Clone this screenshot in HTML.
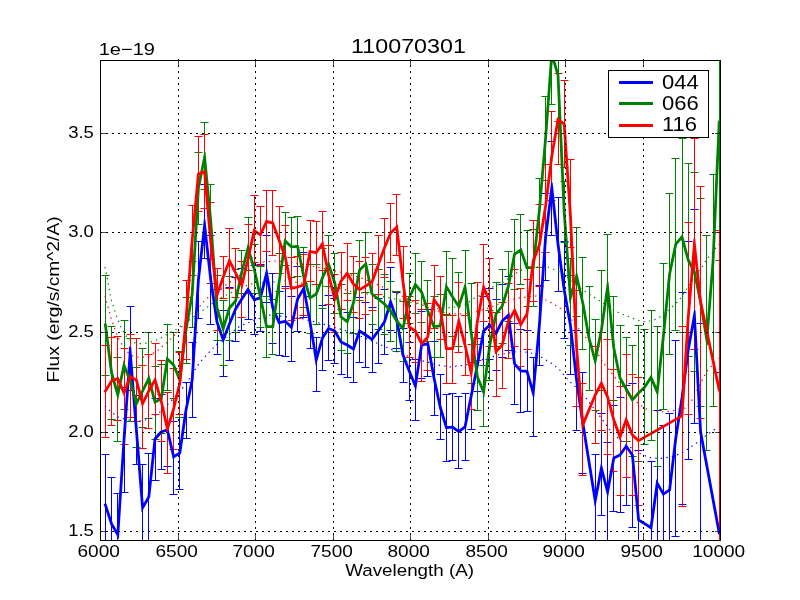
<!DOCTYPE html><html><head><meta charset="utf-8"><style>
html,body{margin:0;padding:0;background:#fff;}
svg{display:block}
text{font-family:"Liberation Sans",sans-serif;fill:#000}
</style></head><body>
<div style="will-change:transform;width:800px;height:600px"><svg width="800" height="600" viewBox="0 0 800 600">
<rect width="800" height="600" fill="#fff"/>
<defs><clipPath id="c"><rect x="100" y="60" width="620" height="480"/></clipPath></defs>
<g clip-path="url(#c)" fill="none">
<path d="M105.5 454.5V556.5M101.5 454.5h8M101.5 556.5h8M111.5 477.5V571.5M107.5 477.5h8M107.5 571.5h8M117.5 493.5V585.5M113.5 493.5h8M113.5 585.5h8M124.5 387.5V492.5M120.5 387.5h8M120.5 492.5h8M130.5 306.5V390.5M126.5 306.5h8M126.5 390.5h8M136.5 395.5V464.5M132.5 395.5h8M132.5 464.5h8M142.5 464.5V559.5M138.5 464.5h8M138.5 559.5h8M148.5 453.5V541.5M144.5 453.5h8M144.5 541.5h8M155.5 398.5V480.5M151.5 398.5h8M151.5 480.5h8M161.5 394.5V469.5M157.5 394.5h8M157.5 469.5h8M167.5 392.5V466.5M163.5 392.5h8M163.5 466.5h8M173.5 421.5V494.5M169.5 421.5h8M169.5 494.5h8M179.5 417.5V489.5M175.5 417.5h8M175.5 489.5h8M186.5 382.5V438.5M182.5 382.5h8M182.5 438.5h8M192.5 342.5V417.5M188.5 342.5h8M188.5 417.5h8M198.5 241.5V318.5M194.5 241.5h8M194.5 318.5h8M204.5 184.5V258.5M200.5 184.5h8M200.5 258.5h8M210.5 235.5V324.5M206.5 235.5h8M206.5 324.5h8M217.5 289.5V354.5M213.5 289.5h8M213.5 354.5h8M223.5 310.5V376.5M219.5 310.5h8M219.5 376.5h8M229.5 287.5V360.5M225.5 287.5h8M225.5 360.5h8M235.5 277.5V341.5M231.5 277.5h8M231.5 341.5h8M241.5 268.5V330.5M237.5 268.5h8M237.5 330.5h8M248.5 257.5V319.5M244.5 257.5h8M244.5 319.5h8M254.5 265.5V334.5M250.5 265.5h8M250.5 334.5h8M260.5 264.5V331.5M256.5 264.5h8M256.5 331.5h8M266.5 235.5V302.5M262.5 235.5h8M262.5 302.5h8M272.5 273.5V343.5M268.5 273.5h8M268.5 343.5h8M279.5 291.5V355.5M275.5 291.5h8M275.5 355.5h8M285.5 286.5V356.5M281.5 286.5h8M281.5 356.5h8M291.5 296.5V361.5M287.5 296.5h8M287.5 361.5h8M297.5 266.5V331.5M293.5 266.5h8M293.5 331.5h8M303.5 252.5V317.5M299.5 252.5h8M299.5 317.5h8M310.5 296.5V348.5M306.5 296.5h8M306.5 348.5h8M316.5 337.5V391.5M312.5 337.5h8M312.5 391.5h8M322.5 305.5V370.5M318.5 305.5h8M318.5 370.5h8M328.5 295.5V360.5M324.5 295.5h8M324.5 360.5h8M334.5 298.5V363.5M330.5 298.5h8M330.5 363.5h8M341.5 309.5V374.5M337.5 309.5h8M337.5 374.5h8M347.5 312.5V377.5M343.5 312.5h8M343.5 377.5h8M353.5 317.5V382.5M349.5 317.5h8M349.5 382.5h8M359.5 297.5V362.5M355.5 297.5h8M355.5 362.5h8M365.5 302.5V367.5M361.5 302.5h8M361.5 367.5h8M372.5 307.5V372.5M368.5 307.5h8M368.5 372.5h8M378.5 298.5V363.5M374.5 298.5h8M374.5 363.5h8M384.5 289.5V354.5M380.5 289.5h8M380.5 354.5h8M390.5 267.5V330.5M386.5 267.5h8M386.5 330.5h8M396.5 292.5V348.5M392.5 292.5h8M392.5 348.5h8M403.5 328.5V382.5M399.5 328.5h8M399.5 382.5h8M409.5 342.5V400.5M405.5 342.5h8M405.5 400.5h8M415.5 359.5V420.5M411.5 359.5h8M411.5 420.5h8M421.5 311.5V378.5M417.5 311.5h8M417.5 378.5h8M427.5 309.5V376.5M423.5 309.5h8M423.5 376.5h8M434.5 341.5V415.5M430.5 341.5h8M430.5 415.5h8M440.5 374.5V439.5M436.5 374.5h8M436.5 439.5h8M446.5 394.5V461.5M442.5 394.5h8M442.5 461.5h8M452.5 393.5V460.5M448.5 393.5h8M448.5 460.5h8M458.5 396.5V468.5M454.5 396.5h8M454.5 468.5h8M465.5 393.5V460.5M461.5 393.5h8M461.5 460.5h8M471.5 362.5V429.5M467.5 362.5h8M467.5 429.5h8M477.5 338.5V391.5M473.5 338.5h8M473.5 391.5h8M483.5 296.5V365.5M479.5 296.5h8M479.5 365.5h8M489.5 288.5V359.5M485.5 288.5h8M485.5 359.5h8M496.5 299.5V370.5M492.5 299.5h8M492.5 370.5h8M502.5 284.5V357.5M498.5 284.5h8M498.5 357.5h8M508.5 276.5V350.5M504.5 276.5h8M504.5 350.5h8M514.5 323.5V404.5M510.5 323.5h8M510.5 404.5h8M520.5 329.5V412.5M516.5 329.5h8M516.5 412.5h8M527.5 330.5V411.5M523.5 330.5h8M523.5 411.5h8M533.5 357.5V436.5M529.5 357.5h8M529.5 436.5h8M539.5 285.5V365.5M535.5 285.5h8M535.5 365.5h8M545.5 193.5V280.5M541.5 193.5h8M541.5 280.5h8M551.5 141.5V235.5M547.5 141.5h8M547.5 235.5h8M558.5 197.5V291.5M554.5 197.5h8M554.5 291.5h8M564.5 241.5V338.5M560.5 241.5h8M560.5 338.5h8M570.5 275.5V374.5M566.5 275.5h8M566.5 374.5h8M576.5 330.5V430.5M572.5 330.5h8M572.5 430.5h8M582.5 372.5V473.5M578.5 372.5h8M578.5 473.5h8M595.5 454.5V555.5M591.5 454.5h8M591.5 555.5h8M601.5 413.5V515.5M597.5 413.5h8M597.5 515.5h8M607.5 442.5V549.5M603.5 442.5h8M603.5 549.5h8M613.5 405.5V511.5M609.5 405.5h8M609.5 511.5h8M620.5 397.5V512.5M616.5 397.5h8M616.5 512.5h8M626.5 385.5V505.5M622.5 385.5h8M622.5 505.5h8M632.5 383.5V527.5M628.5 383.5h8M628.5 527.5h8M638.5 450.5V590.5M634.5 450.5h8M634.5 590.5h8M651.5 461.5V596.5M647.5 461.5h8M647.5 596.5h8M657.5 410.5V547.5M653.5 410.5h8M653.5 547.5h8M663.5 425.5V565.5M659.5 425.5h8M659.5 565.5h8M669.5 413.5V566.5M665.5 413.5h8M665.5 566.5h8M675.5 340.5V536.5M671.5 340.5h8M671.5 536.5h8M682.5 292.5V504.5M678.5 292.5h8M678.5 504.5h8M688.5 241.5V459.5M684.5 241.5h8M684.5 459.5h8M694.5 209.5V423.5M690.5 209.5h8M690.5 423.5h8M700.5 323.5V541.5M696.5 323.5h8M696.5 541.5h8M719.5 372.5V694.5M715.5 372.5h8M715.5 694.5h8" stroke="#0000ff" stroke-width="1"/>
<path d="M105.5 275.5V375.5M101.5 275.5h8M101.5 375.5h8M111.5 326.5V419.5M107.5 326.5h8M107.5 419.5h8M117.5 357.5V441.5M113.5 357.5h8M113.5 441.5h8M124.5 320.5V409.5M120.5 320.5h8M120.5 409.5h8M130.5 338.5V421.5M126.5 338.5h8M126.5 421.5h8M136.5 367.5V447.5M132.5 367.5h8M132.5 447.5h8M142.5 348.5V427.5M138.5 348.5h8M138.5 427.5h8M148.5 332.5V418.5M144.5 332.5h8M144.5 418.5h8M155.5 366.5V439.5M151.5 366.5h8M151.5 439.5h8M161.5 364.5V433.5M157.5 364.5h8M157.5 433.5h8M167.5 324.5V390.5M163.5 324.5h8M163.5 390.5h8M173.5 332.5V398.5M169.5 332.5h8M169.5 398.5h8M179.5 351.5V417.5M175.5 351.5h8M175.5 417.5h8M186.5 297.5V363.5M182.5 297.5h8M182.5 363.5h8M192.5 261.5V327.5M188.5 261.5h8M188.5 327.5h8M198.5 152.5V224.5M194.5 152.5h8M194.5 224.5h8M204.5 122.5V189.5M200.5 122.5h8M200.5 189.5h8M210.5 184.5V259.5M206.5 184.5h8M206.5 259.5h8M217.5 275.5V340.5M213.5 275.5h8M213.5 340.5h8M223.5 300.5V365.5M219.5 300.5h8M219.5 365.5h8M229.5 276.5V340.5M225.5 276.5h8M225.5 340.5h8M235.5 269.5V332.5M231.5 269.5h8M231.5 332.5h8M241.5 250.5V293.5M237.5 250.5h8M237.5 293.5h8M248.5 217.5V270.5M244.5 217.5h8M244.5 270.5h8M254.5 244.5V293.5M250.5 244.5h8M250.5 293.5h8M260.5 266.5V327.5M256.5 266.5h8M256.5 327.5h8M266.5 296.5V357.5M262.5 296.5h8M262.5 357.5h8M272.5 299.5V354.5M268.5 299.5h8M268.5 354.5h8M279.5 253.5V313.5M275.5 253.5h8M275.5 313.5h8M285.5 212.5V265.5M281.5 212.5h8M281.5 265.5h8M291.5 217.5V277.5M287.5 217.5h8M287.5 277.5h8M297.5 216.5V276.5M293.5 216.5h8M293.5 276.5h8M303.5 247.5V307.5M299.5 247.5h8M299.5 307.5h8M310.5 264.5V333.5M306.5 264.5h8M306.5 333.5h8M316.5 264.5V324.5M312.5 264.5h8M312.5 324.5h8M322.5 248.5V308.5M318.5 248.5h8M318.5 308.5h8M328.5 235.5V286.5M324.5 235.5h8M324.5 286.5h8M334.5 253.5V313.5M330.5 253.5h8M330.5 313.5h8M341.5 284.5V350.5M337.5 284.5h8M337.5 350.5h8M347.5 293.5V353.5M343.5 293.5h8M343.5 353.5h8M353.5 273.5V333.5M349.5 273.5h8M349.5 333.5h8M359.5 240.5V300.5M355.5 240.5h8M355.5 300.5h8M365.5 232.5V292.5M361.5 232.5h8M361.5 292.5h8M372.5 264.5V324.5M368.5 264.5h8M368.5 324.5h8M378.5 269.5V329.5M374.5 269.5h8M374.5 329.5h8M384.5 274.5V334.5M380.5 274.5h8M380.5 334.5h8M390.5 281.5V341.5M386.5 281.5h8M386.5 341.5h8M396.5 291.5V351.5M392.5 291.5h8M392.5 351.5h8M403.5 301.5V361.5M399.5 301.5h8M399.5 361.5h8M409.5 273.5V323.5M405.5 273.5h8M405.5 323.5h8M415.5 253.5V313.5M411.5 253.5h8M411.5 313.5h8M421.5 261.5V322.5M417.5 261.5h8M417.5 322.5h8M427.5 280.5V341.5M423.5 280.5h8M423.5 341.5h8M434.5 296.5V357.5M430.5 296.5h8M430.5 357.5h8M440.5 294.5V357.5M436.5 294.5h8M436.5 357.5h8M446.5 251.5V314.5M442.5 251.5h8M442.5 314.5h8M452.5 258.5V336.5M448.5 258.5h8M448.5 336.5h8M458.5 272.5V346.5M454.5 272.5h8M454.5 346.5h8M465.5 250.5V315.5M461.5 250.5h8M461.5 315.5h8M471.5 283.5V383.5M467.5 283.5h8M467.5 383.5h8M477.5 344.5V410.5M473.5 344.5h8M473.5 410.5h8M483.5 365.5V426.5M479.5 365.5h8M479.5 426.5h8M489.5 310.5V380.5M485.5 310.5h8M485.5 380.5h8M496.5 282.5V346.5M492.5 282.5h8M492.5 346.5h8M502.5 269.5V343.5M498.5 269.5h8M498.5 343.5h8M508.5 251.5V321.5M504.5 251.5h8M504.5 321.5h8M514.5 219.5V289.5M510.5 219.5h8M510.5 289.5h8M520.5 214.5V284.5M516.5 214.5h8M516.5 284.5h8M527.5 230.5V306.5M523.5 230.5h8M523.5 306.5h8M533.5 229.5V306.5M529.5 229.5h8M529.5 306.5h8M539.5 178.5V267.5M535.5 178.5h8M535.5 267.5h8M545.5 96.5V180.5M541.5 96.5h8M541.5 180.5h8M551.5 -3.5V104.5M547.5 -3.5h8M547.5 104.5h8M558.5 29.5V121.5M554.5 29.5h8M554.5 121.5h8M564.5 181.5V242.5M560.5 181.5h8M560.5 242.5h8M570.5 258.5V345.5M566.5 258.5h8M566.5 345.5h8M576.5 227.5V316.5M572.5 227.5h8M572.5 316.5h8M582.5 257.5V349.5M578.5 257.5h8M578.5 349.5h8M589.5 286.5V390.5M585.5 286.5h8M585.5 390.5h8M595.5 319.5V410.5M591.5 319.5h8M591.5 410.5h8M601.5 270.5V390.5M597.5 270.5h8M597.5 390.5h8M607.5 234.5V339.5M603.5 234.5h8M603.5 339.5h8M613.5 296.5V400.5M609.5 296.5h8M609.5 400.5h8M620.5 325.5V430.5M616.5 325.5h8M616.5 430.5h8M626.5 337.5V441.5M622.5 337.5h8M622.5 441.5h8M632.5 345.5V456.5M628.5 345.5h8M628.5 456.5h8M638.5 325.5V461.5M634.5 325.5h8M634.5 461.5h8M644.5 329.5V444.5M640.5 329.5h8M640.5 444.5h8M651.5 310.5V440.5M647.5 310.5h8M647.5 440.5h8M657.5 326.5V466.5M653.5 326.5h8M653.5 466.5h8M663.5 263.5V409.5M659.5 263.5h8M659.5 409.5h8M669.5 193.5V354.5M665.5 193.5h8M665.5 354.5h8M675.5 158.5V330.5M671.5 158.5h8M671.5 330.5h8M682.5 138.5V332.5M678.5 138.5h8M678.5 332.5h8M688.5 163.5V356.5M684.5 163.5h8M684.5 356.5h8M694.5 172.5V371.5M690.5 172.5h8M690.5 371.5h8M700.5 198.5V406.5M696.5 198.5h8M696.5 406.5h8M706.5 235.5V450.5M702.5 235.5h8M702.5 450.5h8M713.5 174.5V406.5M709.5 174.5h8M709.5 406.5h8M719.5 -15.5V260.5M715.5 -15.5h8M715.5 260.5h8" stroke="#008000" stroke-width="1"/>
<path d="M105.5 345.5V437.5M101.5 345.5h8M101.5 437.5h8M111.5 337.5V425.5M107.5 337.5h8M107.5 425.5h8M117.5 336.5V420.5M113.5 336.5h8M113.5 420.5h8M124.5 348.5V444.5M120.5 348.5h8M120.5 444.5h8M130.5 334.5V417.5M126.5 334.5h8M126.5 417.5h8M136.5 338.5V421.5M132.5 338.5h8M132.5 421.5h8M142.5 365.5V448.5M138.5 365.5h8M138.5 448.5h8M148.5 354.5V428.5M144.5 354.5h8M144.5 428.5h8M155.5 343.5V414.5M151.5 343.5h8M151.5 414.5h8M161.5 360.5V441.5M157.5 360.5h8M157.5 441.5h8M167.5 392.5V473.5M163.5 392.5h8M163.5 473.5h8M173.5 368.5V449.5M169.5 368.5h8M169.5 449.5h8M179.5 352.5V414.5M175.5 352.5h8M175.5 414.5h8M186.5 280.5V359.5M182.5 280.5h8M182.5 359.5h8M192.5 205.5V275.5M188.5 205.5h8M188.5 275.5h8M198.5 136.5V211.5M194.5 136.5h8M194.5 211.5h8M204.5 134.5V208.5M200.5 134.5h8M200.5 208.5h8M210.5 202.5V283.5M206.5 202.5h8M206.5 283.5h8M217.5 268.5V330.5M213.5 268.5h8M213.5 330.5h8M223.5 256.5V298.5M219.5 256.5h8M219.5 298.5h8M229.5 228.5V288.5M225.5 228.5h8M225.5 288.5h8M235.5 248.5V297.5M231.5 248.5h8M231.5 297.5h8M241.5 261.5V317.5M237.5 261.5h8M237.5 317.5h8M248.5 224.5V293.5M244.5 224.5h8M244.5 293.5h8M254.5 195.5V262.5M250.5 195.5h8M250.5 262.5h8M260.5 206.5V265.5M256.5 206.5h8M256.5 265.5h8M266.5 190.5V251.5M262.5 190.5h8M262.5 251.5h8M272.5 190.5V255.5M268.5 190.5h8M268.5 255.5h8M279.5 206.5V273.5M275.5 206.5h8M275.5 273.5h8M285.5 225.5V288.5M281.5 225.5h8M281.5 288.5h8M291.5 257.5V320.5M287.5 257.5h8M287.5 320.5h8M297.5 256.5V318.5M293.5 256.5h8M293.5 318.5h8M303.5 254.5V315.5M299.5 254.5h8M299.5 315.5h8M310.5 220.5V281.5M306.5 220.5h8M306.5 281.5h8M316.5 221.5V284.5M312.5 221.5h8M312.5 284.5h8M322.5 211.5V270.5M318.5 211.5h8M318.5 270.5h8M328.5 245.5V304.5M324.5 245.5h8M324.5 304.5h8M334.5 274.5V332.5M330.5 274.5h8M330.5 332.5h8M341.5 252.5V309.5M337.5 252.5h8M337.5 309.5h8M347.5 243.5V300.5M343.5 243.5h8M343.5 300.5h8M353.5 256.5V312.5M349.5 256.5h8M349.5 312.5h8M359.5 261.5V318.5M355.5 261.5h8M355.5 318.5h8M365.5 257.5V314.5M361.5 257.5h8M361.5 314.5h8M372.5 253.5V310.5M368.5 253.5h8M368.5 310.5h8M378.5 235.5V294.5M374.5 235.5h8M374.5 294.5h8M384.5 218.5V277.5M380.5 218.5h8M380.5 277.5h8M390.5 203.5V262.5M386.5 203.5h8M386.5 262.5h8M396.5 194.5V255.5M392.5 194.5h8M392.5 255.5h8M403.5 246.5V318.5M399.5 246.5h8M399.5 318.5h8M409.5 296.5V357.5M405.5 296.5h8M405.5 357.5h8M415.5 300.5V362.5M411.5 300.5h8M411.5 362.5h8M421.5 309.5V381.5M417.5 309.5h8M417.5 381.5h8M427.5 303.5V370.5M423.5 303.5h8M423.5 370.5h8M434.5 265.5V328.5M430.5 265.5h8M430.5 328.5h8M440.5 276.5V339.5M436.5 276.5h8M436.5 339.5h8M446.5 315.5V383.5M442.5 315.5h8M442.5 383.5h8M452.5 315.5V383.5M448.5 315.5h8M448.5 383.5h8M458.5 282.5V352.5M454.5 282.5h8M454.5 352.5h8M465.5 315.5V375.5M461.5 315.5h8M461.5 375.5h8M471.5 344.5V409.5M467.5 344.5h8M467.5 409.5h8M477.5 282.5V360.5M473.5 282.5h8M473.5 360.5h8M483.5 244.5V321.5M479.5 244.5h8M479.5 321.5h8M489.5 258.5V346.5M485.5 258.5h8M485.5 346.5h8M496.5 312.5V396.5M492.5 312.5h8M492.5 396.5h8M502.5 302.5V388.5M498.5 302.5h8M498.5 388.5h8M508.5 283.5V358.5M504.5 283.5h8M504.5 358.5h8M514.5 269.5V346.5M510.5 269.5h8M510.5 346.5h8M520.5 288.5V366.5M516.5 288.5h8M516.5 366.5h8M527.5 279.5V349.5M523.5 279.5h8M523.5 349.5h8M533.5 220.5V301.5M529.5 220.5h8M529.5 301.5h8M539.5 204.5V286.5M535.5 204.5h8M535.5 286.5h8M545.5 164.5V252.5M541.5 164.5h8M541.5 252.5h8M551.5 111.5V200.5M547.5 111.5h8M547.5 200.5h8M558.5 73.5V164.5M554.5 73.5h8M554.5 164.5h8M564.5 80.5V167.5M560.5 80.5h8M560.5 167.5h8M570.5 159.5V247.5M566.5 159.5h8M566.5 247.5h8M576.5 290.5V406.5M572.5 290.5h8M572.5 406.5h8M582.5 383.5V475.5M578.5 383.5h8M578.5 475.5h8M595.5 346.5V443.5M591.5 346.5h8M591.5 443.5h8M601.5 332.5V430.5M597.5 332.5h8M597.5 430.5h8M607.5 339.5V454.5M603.5 339.5h8M603.5 454.5h8M613.5 369.5V471.5M609.5 369.5h8M609.5 471.5h8M620.5 386.5V495.5M616.5 386.5h8M616.5 495.5h8M626.5 354.5V477.5M622.5 354.5h8M622.5 477.5h8M632.5 374.5V495.5M628.5 374.5h8M628.5 495.5h8M638.5 377.5V505.5M634.5 377.5h8M634.5 505.5h8M682.5 326.5V506.5M678.5 326.5h8M678.5 506.5h8M688.5 222.5V414.5M684.5 222.5h8M684.5 414.5h8M694.5 138.5V349.5M690.5 138.5h8M690.5 349.5h8M700.5 186.5V418.5M696.5 186.5h8M696.5 418.5h8M719.5 230.5V550.5M715.5 230.5h8M715.5 550.5h8" stroke="#ff0000" stroke-width="1"/>
<polyline points="105.0,406.0 110.0,411.0 118.0,417.0 128.0,420.0 140.0,421.0 150.0,419.0 160.0,412.0 171.0,401.0 180.0,391.0 186.0,384.0 200.0,362.0 216.0,345.0 240.0,326.0 268.0,315.0 300.0,318.0 323.0,324.0 350.0,332.0 365.0,338.0 388.0,348.0 412.0,358.0 438.0,365.0 450.0,367.0 466.0,365.0 481.0,360.0 498.0,355.0 509.0,353.0 520.0,351.0 531.0,353.0 541.0,357.0 551.0,363.0 559.0,369.0 569.0,381.0 578.0,389.0 585.0,397.0 599.0,415.0 609.0,429.0 621.0,441.0 639.0,453.0 649.0,457.5 660.0,458.5 671.0,457.0 681.0,453.5 690.0,447.5 699.0,441.0 708.0,434.0 718.0,427.0" stroke="#0000ff" stroke-width="1.2" stroke-dasharray="1.39 4.17"/>
<polyline points="105.0,267.0 107.0,277.0 109.0,288.0 111.0,299.0 113.0,305.0 116.0,315.0 120.0,325.0 125.0,335.0 129.0,339.0 133.0,342.4 139.0,343.7 144.0,343.7 149.0,342.4 155.0,340.7 160.0,338.4 165.0,335.7 169.0,333.0 175.0,330.4 179.0,327.3 183.0,324.4 202.0,311.0 220.0,298.0 250.0,284.0 284.0,281.0 295.0,282.0 343.0,289.0 349.0,291.0 380.0,296.0 410.0,302.0 436.0,308.7 446.7,308.0 464.0,306.0 473.3,298.7 478.7,296.0 484.0,294.0 492.0,287.3 502.7,282.7 512.0,276.0 516.7,272.7 527.6,267.0 548.0,267.0 561.0,272.0 581.6,289.0 602.0,302.6 618.7,312.7 635.6,319.4 643.0,322.0 649.0,321.0 654.0,320.0 659.0,317.6 668.0,311.0 672.0,307.0 676.4,303.0 680.0,299.0 686.0,290.0 692.0,281.0 698.0,272.0 702.0,267.0 705.0,262.0 708.0,258.0 712.0,253.0 715.0,249.0 719.0,244.0" stroke="#008000" stroke-width="1.2" stroke-dasharray="1.39 4.17"/>
<polyline points="105.0,296.0 108.0,307.0 111.0,318.0 114.7,328.7 118.7,338.7 124.0,348.3 128.0,352.7 132.0,355.7 140.0,357.6 148.0,356.7 153.0,353.3 158.0,350.4 162.0,346.7 166.4,343.0 170.7,339.0 174.4,335.3 178.7,330.7 182.0,326.7 190.0,316.0 200.0,306.0 206.0,299.0 213.0,294.0 240.0,275.0 264.0,262.0 274.0,261.0 290.0,262.0 317.0,267.0 340.0,272.0 360.0,277.5 376.0,284.0 392.0,291.0 410.0,300.0 437.0,310.7 448.0,313.3 458.0,314.0 470.0,313.3 486.7,308.7 496.7,304.7 506.0,301.3 518.0,298.0 537.7,295.8 551.0,302.6 564.7,311.0 578.0,328.0 591.7,344.7 605.0,365.0 618.7,381.9 632.0,398.7 645.7,408.9 659.0,412.0 672.0,411.0 685.0,408.0 691.5,401.0 706.5,371.7 718.3,358.0" stroke="#ff0000" stroke-width="1.2" stroke-dasharray="1.39 4.17"/>
<path d="M106.29 503.25L112.92 523.57L110.28 524.43L103.65 504.11ZM112.81 523.31L119.01 534.20L116.59 535.57L110.39 524.69ZM116.41 534.80L122.61 439.91L125.39 440.09L119.19 534.98ZM122.61 439.90L128.81 352.07L131.59 352.27L125.39 440.10ZM131.59 352.06L137.79 429.89L135.01 430.11L128.81 352.28ZM137.79 429.89L143.99 507.77L141.21 507.99L135.01 430.11ZM141.39 507.19L147.59 496.31L150.01 497.68L143.81 508.57ZM147.42 496.85L153.62 438.88L156.38 439.18L150.18 497.14ZM153.96 438.11L160.16 431.10L162.24 432.94L156.04 439.95ZM160.73 430.72L166.93 428.47L167.87 431.08L161.67 433.33ZM168.75 429.46L174.95 456.50L172.25 457.12L166.05 430.08ZM172.87 455.63L179.07 451.77L180.53 454.13L174.33 457.99ZM178.42 452.75L184.62 409.80L187.38 410.20L181.18 453.15ZM184.64 409.72L190.84 379.72L193.56 380.28L187.36 410.28ZM190.81 379.91L197.01 279.91L199.79 280.09L193.59 380.09ZM197.02 279.84L203.22 225.01L205.98 225.33L199.78 280.16ZM205.98 225.01L212.18 279.84L209.42 280.16L203.22 225.33ZM212.18 279.80L218.38 321.80L215.62 322.20L209.42 280.20ZM218.31 321.54L224.51 339.25L221.89 340.17L215.69 322.46ZM221.91 339.20L228.11 323.49L230.69 324.51L224.49 340.22ZM228.12 323.47L234.32 308.47L236.88 309.53L230.68 324.53ZM234.42 308.27L240.62 298.27L242.98 299.73L236.78 309.73ZM240.64 298.24L246.84 288.77L249.16 290.30L242.96 299.76ZM249.18 288.81L255.38 298.87L253.02 300.33L246.82 290.26ZM253.82 298.26L260.02 296.52L260.78 299.19L254.58 300.94ZM259.05 297.52L265.25 272.83L267.95 273.51L261.75 298.19ZM267.97 272.92L274.17 307.75L271.43 308.24L265.23 273.41ZM274.08 307.45L280.28 322.00L277.72 323.09L271.52 308.54ZM278.73 321.18L284.93 319.93L285.47 322.66L279.27 323.91ZM286.15 320.28L292.35 326.10L290.45 328.13L284.25 322.31ZM290.04 326.82L296.24 298.70L298.96 299.30L292.76 327.42ZM296.40 298.30L302.60 287.72L305.00 289.12L298.80 299.71ZM305.17 288.17L311.37 321.75L308.63 322.25L302.43 288.67ZM311.37 321.78L317.57 359.61L314.83 360.06L308.63 322.22ZM314.86 359.45L321.06 337.63L323.74 338.39L317.54 360.21ZM321.23 337.25L327.43 327.70L329.77 329.22L323.57 338.76ZM329.14 327.18L335.34 329.77L334.26 332.33L328.06 329.74ZM336.01 330.36L342.21 341.26L339.79 342.64L333.59 331.74ZM341.61 340.70L347.81 343.76L346.59 346.25L340.39 343.20ZM347.95 343.84L354.15 347.79L352.65 350.13L346.45 346.18ZM352.09 348.51L358.29 330.58L360.91 331.49L354.71 349.42ZM360.35 329.87L366.55 333.83L365.05 336.17L358.85 332.21ZM366.60 333.86L372.80 338.21L371.20 340.49L365.00 336.14ZM370.88 338.52L377.08 330.17L379.32 331.83L373.12 340.18ZM377.05 330.21L383.25 321.20L385.55 322.78L379.35 331.79ZM383.07 321.58L389.27 301.53L391.93 302.35L385.73 322.40ZM391.91 301.49L398.11 319.55L395.49 320.45L389.29 302.39ZM398.17 319.76L404.37 354.76L401.63 355.24L395.43 320.24ZM404.30 354.50L410.50 370.50L407.90 371.50L401.70 355.50ZM410.48 370.46L416.68 385.31L414.12 386.38L407.92 371.54ZM414.03 385.64L420.23 344.95L422.97 345.37L416.77 386.06ZM421.26 343.81L427.46 342.27L428.14 344.97L421.94 346.51ZM429.17 343.37L435.37 377.75L432.63 378.25L426.43 343.87ZM435.36 377.71L441.56 406.71L438.84 407.29L432.64 378.29ZM441.53 406.60L447.73 427.21L445.07 428.01L438.87 407.40ZM446.29 426.22L452.49 425.74L452.71 428.51L446.51 429.00ZM453.41 426.00L459.61 430.48L457.99 432.73L451.79 428.25ZM457.97 430.49L464.17 425.84L465.83 428.07L459.63 432.72ZM463.64 426.68L469.84 395.73L472.56 396.27L466.36 427.23ZM469.84 395.73L476.04 364.73L478.76 365.27L472.56 396.27ZM476.03 364.75L482.23 330.77L484.97 331.27L478.77 365.25ZM482.63 330.03L488.83 324.00L490.77 326.00L484.57 332.02ZM490.91 324.17L497.11 332.46L494.89 334.13L488.69 325.83ZM494.76 332.67L500.96 320.38L503.44 321.63L497.24 333.92ZM501.25 319.99L507.45 314.17L509.35 316.20L503.15 322.02ZM509.78 315.01L515.98 363.80L513.22 364.15L507.02 315.36ZM515.63 363.04L521.83 369.95L519.77 371.81L513.57 364.90ZM520.89 369.49L527.09 369.91L526.91 372.69L520.71 372.26ZM528.34 370.91L534.54 392.46L531.86 393.23L525.66 371.68ZM531.82 392.71L538.02 324.87L540.78 325.13L534.58 392.97ZM538.01 324.90L544.21 236.90L546.99 237.10L540.79 325.10ZM544.22 236.83L550.42 187.83L553.18 188.17L546.98 237.17ZM553.18 187.85L559.38 243.85L556.62 244.15L550.42 188.15ZM559.38 243.81L565.58 289.81L562.82 290.19L556.62 244.19ZM565.57 289.76L571.77 324.76L569.03 325.24L562.83 290.24ZM571.78 324.84L577.98 379.84L575.22 380.16L569.02 325.16ZM577.98 379.80L584.18 422.80L581.42 423.20L575.22 380.20ZM584.17 422.78L596.57 500.61L593.83 501.05L581.43 423.22ZM593.83 500.57L600.03 467.91L602.77 468.43L596.57 501.09ZM602.74 467.82L608.94 491.48L606.26 492.18L600.06 468.52ZM606.23 491.58L612.43 457.85L615.17 458.36L608.97 492.08ZM613.17 456.87L619.37 453.72L620.63 456.20L614.43 459.34ZM618.87 454.15L625.07 445.44L627.33 447.05L621.13 455.76ZM627.33 445.45L633.53 454.21L631.27 455.81L625.07 447.05ZM633.78 454.88L639.98 519.80L637.22 520.07L631.02 455.14ZM639.34 518.76L651.74 526.59L650.26 528.94L637.86 521.11ZM649.62 527.58L655.82 482.95L658.58 483.33L652.38 527.96ZM658.41 482.45L664.61 493.38L662.19 494.75L655.99 483.82ZM662.63 492.91L668.83 488.79L670.37 491.10L664.17 495.22ZM668.22 489.78L674.42 437.84L677.18 438.16L670.98 490.11ZM674.43 437.79L680.63 397.79L683.37 398.21L677.17 438.21ZM680.62 397.82L686.82 349.82L689.58 350.18L683.38 398.18ZM686.83 349.75L693.03 315.42L695.77 315.91L689.57 350.25ZM695.79 315.59L701.99 431.93L699.21 432.07L693.01 315.74ZM701.97 431.75L720.82 534.12L718.08 534.62L699.23 432.25ZM110.39 524.69L110.32 524.56L110.28 524.43L111.60 524.00ZM119.19 534.98L118.88 539.60L116.59 535.57L117.80 534.89ZM124.00 440.00L122.61 439.91L122.61 439.91L122.61 439.90ZM130.20 352.17L128.81 352.07L129.20 346.61L131.15 346.61L131.59 352.06ZM136.40 430.00L137.79 429.89L137.79 429.89L137.79 429.89ZM143.81 508.57L141.57 512.49L141.21 507.99L142.60 507.88ZM150.18 497.14L150.15 497.43L150.01 497.68L148.80 497.00ZM155.00 439.03L153.62 438.88L153.67 438.44L153.96 438.11ZM161.20 432.02L160.16 431.10L160.39 430.84L160.73 430.72ZM167.40 429.77L166.93 428.47L168.40 427.93L168.75 429.46ZM174.33 457.99L172.68 459.02L172.25 457.12L173.60 456.81ZM181.18 453.15L181.08 453.79L180.53 454.13L179.80 452.95ZM186.00 410.00L184.62 409.80L184.63 409.76L184.64 409.72ZM193.59 380.09L193.58 380.18L193.56 380.28L192.20 380.00ZM198.40 280.00L197.01 279.91L197.01 279.88L197.02 279.84ZM204.60 225.17L203.22 225.01L203.83 219.61L205.37 219.61L205.98 225.01ZM209.42 280.20L209.42 280.18L209.42 280.16L210.80 280.00ZM215.69 322.46L215.64 322.33L215.62 322.20L217.00 322.00ZM224.49 340.22L223.12 343.69L221.89 340.17L223.20 339.71ZM229.40 324.00L228.11 323.49L228.11 323.48L228.12 323.47ZM235.60 309.00L234.32 308.47L234.36 308.37L234.42 308.27ZM241.80 299.00L240.62 298.27L240.63 298.25L240.64 298.24ZM248.00 289.54L246.84 288.77L248.04 286.94L249.18 288.81ZM254.58 300.94L253.57 301.22L253.02 300.33L254.20 299.60ZM261.75 298.19L261.55 298.98L260.78 299.19L260.40 297.86ZM266.60 273.17L265.25 272.83L266.56 267.60L267.02 267.62L267.97 272.92ZM271.52 308.54L271.46 308.40L271.43 308.24L272.80 308.00ZM279.27 323.91L278.17 324.13L277.72 323.09L279.00 322.54ZM285.20 321.29L284.93 319.93L285.63 319.79L286.15 320.28ZM292.76 327.42L292.23 329.80L290.45 328.13L291.40 327.12ZM297.60 299.00L296.24 298.70L296.29 298.49L296.40 298.30ZM303.80 288.42L302.60 287.72L304.49 284.49L305.17 288.17ZM310.00 322.00L311.37 321.75L311.37 321.76L311.37 321.78ZM317.54 360.21L316.07 365.40L315.70 365.37L314.83 360.06L316.20 359.83ZM322.40 338.01L321.06 337.63L321.12 337.43L321.23 337.25ZM328.60 328.46L327.43 327.70L328.07 326.73L329.14 327.18ZM334.80 331.05L335.34 329.77L335.77 329.95L336.01 330.36ZM340.39 343.20L340.00 343.01L339.79 342.64L341.00 341.95ZM347.20 345.01L347.81 343.76L347.88 343.79L347.95 343.84ZM354.71 349.42L354.14 351.08L352.65 350.13L353.40 348.96ZM359.60 331.04L358.29 330.58L358.86 328.92L360.35 329.87ZM365.80 335.00L366.55 333.83L366.57 333.85L366.60 333.86ZM373.12 340.18L372.31 341.27L371.20 340.49L372.00 339.35ZM379.35 331.79L379.33 331.81L379.32 331.83L378.20 331.00ZM385.73 322.40L385.67 322.60L385.55 322.78L384.40 321.99ZM390.60 301.94L389.27 301.53L390.53 297.46L391.91 301.49ZM396.80 320.00L398.11 319.55L398.15 319.65L398.17 319.76ZM401.70 355.50L401.65 355.37L401.63 355.24L403.00 355.00ZM407.92 371.54L407.91 371.52L407.90 371.50L409.20 371.00ZM416.77 386.06L416.03 390.96L414.12 386.38L415.40 385.85ZM421.60 345.16L420.23 344.95L420.37 344.04L421.26 343.81ZM427.80 343.62L427.46 342.27L428.90 341.91L429.17 343.37ZM432.64 378.29L432.64 378.27L432.63 378.25L434.00 378.00ZM438.87 407.40L438.85 407.35L438.84 407.29L440.20 407.00ZM446.51 429.00L445.39 429.08L445.07 428.01L446.40 427.61ZM452.60 427.13L452.49 425.74L453.00 425.70L453.41 426.00ZM459.63 432.72L458.82 433.33L457.99 432.73L458.80 431.60ZM466.36 427.23L466.26 427.75L465.83 428.07L465.00 426.95ZM472.56 396.27L472.56 396.27L472.56 396.27L471.20 396.00ZM478.77 365.25L478.77 365.26L478.76 365.27L477.40 365.00ZM483.60 331.02L482.23 330.77L482.31 330.34L482.63 330.03ZM489.80 325.00L488.83 324.00L489.97 322.90L490.91 324.17ZM497.24 333.92L496.23 335.92L494.89 334.13L496.00 333.29ZM502.20 321.01L500.96 320.38L501.07 320.16L501.25 319.99ZM508.40 315.18L507.45 314.17L509.44 312.30L509.78 315.01ZM513.57 364.90L513.28 364.58L513.22 364.15L514.60 363.97ZM520.71 372.26L520.14 372.23L519.77 371.81L520.80 370.88ZM527.00 371.30L527.09 369.91L528.07 369.98L528.34 370.91ZM534.58 392.97L534.09 398.34L533.36 398.41L531.86 393.23L533.20 392.84ZM540.79 325.10L540.79 325.11L540.78 325.13L539.40 325.00ZM545.60 237.00L544.21 236.90L544.22 236.86L544.22 236.83ZM551.80 188.00L550.42 187.83L551.10 182.43L552.58 182.45L553.18 187.85ZM556.62 244.19L556.62 244.17L556.62 244.15L558.00 244.00ZM562.83 290.24L562.83 290.21L562.82 290.19L564.20 290.00ZM570.40 325.00L571.77 324.76L571.78 324.80L571.78 324.84ZM575.22 380.20L575.22 380.18L575.22 380.16L576.60 380.00ZM581.43 423.22L581.43 423.21L581.42 423.20L582.80 423.00ZM596.57 501.09L595.56 506.40L594.68 506.38L593.83 501.05L595.20 500.83ZM601.40 468.17L600.03 467.91L601.04 462.62L601.38 462.61L602.74 467.82ZM608.97 492.08L607.99 497.38L607.62 497.39L606.26 492.18L607.60 491.83ZM613.80 458.11L612.43 457.85L612.56 457.18L613.17 456.87ZM621.13 455.76L620.93 456.04L620.63 456.20L620.00 454.96ZM626.20 446.25L625.07 445.44L626.20 443.85L627.33 445.45ZM632.40 455.01L633.53 454.21L633.75 454.51L633.78 454.88ZM637.86 521.11L637.28 520.74L637.22 520.07L638.60 519.93ZM652.38 527.96L652.08 530.09L650.26 528.94L651.00 527.77ZM657.20 483.14L655.82 482.95L656.39 478.89L658.41 482.45ZM664.17 495.22L662.93 496.05L662.19 494.75L663.40 494.07ZM670.98 490.11L670.90 490.75L670.37 491.10L669.60 489.95ZM675.80 438.00L674.42 437.84L674.42 437.81L674.43 437.79ZM683.38 398.18L683.38 398.20L683.37 398.21L682.00 398.00ZM688.20 350.00L686.82 349.82L686.83 349.79L686.83 349.75ZM694.40 315.66L693.03 315.42L694.00 310.07L695.50 310.16L695.79 315.59ZM699.23 432.25L699.22 432.16L699.21 432.07L700.60 432.00Z" fill="#0000ff" stroke="none"/>
<path d="M106.60 323.44L112.98 372.82L110.22 373.18L103.84 323.80ZM112.94 372.62L119.14 394.45L116.46 395.21L110.26 373.38ZM116.44 394.55L122.64 364.88L125.36 365.44L119.16 395.12ZM125.29 364.65L131.49 380.49L128.91 381.51L122.71 365.67ZM131.54 380.63L137.74 403.36L135.06 404.09L128.86 381.37ZM135.15 403.11L141.35 390.39L143.85 391.61L137.65 404.33ZM141.35 390.39L147.55 377.79L150.05 379.01L143.85 391.61ZM150.14 378.05L156.34 401.68L153.66 402.39L147.46 378.75ZM154.38 400.79L160.58 397.68L161.82 400.17L155.62 403.28ZM159.83 398.71L166.03 358.87L168.77 359.30L162.57 399.14ZM168.36 358.08L174.56 364.00L172.64 366.01L166.44 360.09ZM174.88 364.47L181.08 379.32L178.52 380.39L172.32 365.55ZM178.42 379.68L184.62 329.83L187.38 330.17L181.18 380.02ZM184.63 329.76L190.83 293.76L193.57 294.24L187.37 330.24ZM190.81 293.92L197.01 187.92L199.79 188.08L193.59 294.08ZM197.04 187.73L203.24 156.89L205.96 157.44L199.76 188.27ZM205.98 157.03L212.18 221.87L209.42 222.13L203.22 157.30ZM212.19 221.90L218.39 307.90L215.61 308.10L209.41 222.10ZM218.33 307.60L224.53 328.43L221.87 329.23L215.67 308.40ZM221.87 328.43L228.07 307.62L230.73 308.42L224.53 329.23ZM228.36 307.10L234.56 300.06L236.64 301.90L230.44 308.94ZM234.24 300.69L240.44 271.71L243.16 272.29L236.96 301.27ZM240.45 271.65L246.65 247.82L249.35 248.52L243.15 272.35ZM249.33 247.77L255.53 268.60L252.87 269.40L246.67 248.57ZM255.56 268.70L261.76 296.70L259.04 297.30L252.84 269.30ZM261.76 296.72L267.96 326.40L265.24 326.97L259.04 297.28ZM266.59 325.30L272.79 325.27L272.81 328.05L266.61 328.08ZM271.42 326.46L277.62 282.80L280.38 283.20L274.18 326.85ZM277.62 282.80L283.82 240.91L286.58 241.31L280.38 283.20ZM286.14 240.08L292.34 245.76L290.46 247.81L284.26 242.13ZM291.32 245.40L297.52 245.06L297.68 247.83L291.48 248.18ZM298.96 246.17L305.16 276.72L302.44 277.28L296.24 246.72ZM305.13 276.60L311.33 297.53L308.67 298.32L302.47 277.39ZM309.25 296.75L315.45 292.80L316.95 295.14L310.75 299.09ZM314.90 293.47L321.10 277.50L323.70 278.50L317.50 294.47ZM321.13 277.43L327.33 263.57L329.87 264.70L323.67 278.57ZM329.92 263.70L336.12 282.57L333.48 283.43L327.28 264.57ZM336.17 282.75L342.37 316.72L339.63 317.22L333.43 283.25ZM341.85 315.87L348.05 320.68L346.35 322.87L340.15 318.07ZM345.88 321.34L352.08 302.56L354.72 303.44L348.52 322.21ZM352.03 302.74L358.23 269.76L360.97 270.27L354.77 303.26ZM358.63 269.02L364.83 262.93L366.77 264.92L360.57 271.01ZM367.16 263.64L373.36 293.67L370.64 294.23L364.44 264.21ZM372.88 292.88L379.08 297.92L377.32 300.08L371.12 295.03ZM379.07 297.92L385.27 302.92L383.53 305.09L377.33 300.08ZM385.44 303.08L391.64 310.08L389.56 311.92L383.36 304.93ZM391.78 310.27L397.98 320.27L395.62 321.73L389.42 311.74ZM397.88 320.12L404.08 327.71L401.92 329.47L395.72 321.88ZM401.64 328.32L407.84 297.73L410.56 298.28L404.36 328.87ZM407.94 297.42L414.14 283.93L416.66 285.09L410.46 298.58ZM416.47 283.63L422.67 291.12L420.53 292.89L414.33 285.40ZM422.92 291.58L429.12 310.57L426.48 311.43L420.28 292.44ZM429.09 310.49L435.29 326.14L432.71 327.17L426.51 311.51ZM433.80 325.28L440.00 324.39L440.40 327.14L434.20 328.03ZM438.83 325.55L445.03 286.39L447.77 286.82L441.57 325.98ZM447.59 285.89L453.79 296.29L451.41 297.71L445.21 287.32ZM453.76 296.24L459.96 305.65L457.64 307.18L451.44 297.76ZM457.48 305.99L463.68 286.74L466.32 287.59L460.12 306.84ZM466.38 286.98L472.58 332.81L469.82 333.19L463.62 287.35ZM472.58 332.81L478.78 376.80L476.02 377.19L469.82 333.19ZM478.68 376.46L484.88 391.31L482.32 392.39L476.12 377.53ZM482.22 391.67L488.42 344.82L491.18 345.18L484.98 392.03ZM488.44 344.73L494.64 313.74L497.36 314.29L491.16 345.27ZM494.90 313.17L501.10 305.14L503.30 306.84L497.10 314.87ZM500.87 305.58L507.07 285.59L509.73 286.41L503.53 306.40ZM507.04 285.73L513.24 253.78L515.96 254.31L509.76 286.26ZM513.84 252.88L520.04 248.85L521.56 251.18L515.36 255.21ZM522.11 249.56L528.31 267.28L525.69 268.19L519.49 250.47ZM526.98 266.35L533.18 266.25L533.22 269.03L527.02 269.12ZM531.82 267.50L538.02 209.85L540.78 210.15L534.58 267.79ZM538.02 209.88L544.22 137.88L546.98 138.12L540.78 210.12ZM544.21 137.90L550.41 54.05L553.19 54.26L546.99 138.10ZM553.13 53.76L559.33 74.60L556.67 75.40L550.47 54.55ZM559.39 74.94L565.59 211.94L562.81 212.06L556.61 75.06ZM565.59 211.90L571.79 297.74L569.01 297.94L562.81 212.10ZM569.06 297.46L575.26 275.79L577.94 276.55L571.74 298.22ZM577.95 275.86L584.15 302.69L581.45 303.31L575.25 276.48ZM584.17 302.76L590.37 337.76L587.63 338.24L581.43 303.24ZM590.34 337.64L596.54 360.47L593.86 361.20L587.66 338.36ZM593.84 360.56L600.04 329.73L602.76 330.27L596.56 361.11ZM600.02 329.80L606.22 286.97L608.98 287.37L602.78 330.20ZM608.98 287.03L615.18 347.86L612.42 348.14L606.22 287.31ZM615.16 347.72L621.36 377.71L618.64 378.28L612.44 348.28ZM621.21 377.31L627.41 388.32L624.99 389.68L618.79 378.68ZM627.41 388.31L633.61 399.12L631.19 400.50L624.99 389.69ZM631.37 398.88L637.57 392.07L639.63 393.94L633.43 400.75ZM637.63 392.00L643.83 385.99L645.77 387.99L639.57 394.00ZM643.63 386.24L649.83 376.58L652.17 378.08L645.97 387.74ZM652.28 376.78L658.48 391.30L655.92 392.39L649.72 377.87ZM655.82 391.69L662.02 335.85L664.78 336.15L658.58 392.00ZM662.02 335.86L668.22 273.86L670.98 274.14L664.78 336.14ZM668.24 273.72L674.44 243.73L677.16 244.29L670.96 274.28ZM674.76 243.09L680.96 236.04L683.04 237.88L676.84 244.93ZM683.34 236.60L689.54 259.64L686.86 260.36L680.66 237.32ZM689.44 259.36L695.64 271.37L693.16 272.64L686.96 260.63ZM695.76 271.72L701.96 301.72L699.24 302.28L693.04 272.29ZM701.97 301.78L708.17 339.61L705.43 340.06L699.23 302.22ZM705.41 339.72L711.61 261.89L714.39 262.11L708.19 339.94ZM711.61 261.94L717.87 120.55L720.65 120.67L714.39 262.06ZM110.26 373.38L110.23 373.28L110.22 373.18L111.60 373.00ZM119.16 395.12L118.06 400.39L117.93 400.39L116.46 395.21L117.80 394.83ZM124.00 365.16L122.64 364.88L123.59 360.31L125.29 364.65ZM130.20 381.00L131.49 380.49L131.52 380.56L131.54 380.63ZM137.65 404.33L136.03 407.65L135.06 404.09L136.40 403.72ZM142.60 391.00L141.35 390.39L141.35 390.39L141.35 390.39ZM148.80 378.40L147.55 377.79L149.20 374.44L150.14 378.05ZM155.62 403.28L154.09 404.05L153.66 402.39L155.00 402.03ZM162.57 399.14L162.46 399.85L161.82 400.17L161.20 398.93ZM167.40 359.08L166.03 358.87L166.44 356.24L168.36 358.08ZM173.60 365.01L174.56 364.00L174.77 364.21L174.88 364.47ZM181.18 380.02L180.53 385.21L178.52 380.39L179.80 379.85ZM186.00 330.00L184.62 329.83L184.62 329.80L184.63 329.76ZM193.59 294.08L193.58 294.16L193.57 294.24L192.20 294.00ZM198.40 188.00L197.01 187.92L197.02 187.82L197.04 187.73ZM204.60 157.17L203.24 156.89L204.30 151.58L205.47 151.64L205.98 157.03ZM210.80 222.00L212.18 221.87L212.19 221.88L212.19 221.90ZM215.67 308.40L215.62 308.25L215.61 308.10L217.00 308.00ZM224.53 329.23L223.20 333.70L221.87 329.23L223.20 328.83ZM229.40 308.02L228.07 307.62L228.16 307.33L228.36 307.10ZM236.96 301.27L236.88 301.62L236.64 301.90L235.60 300.98ZM241.80 272.00L240.44 271.71L240.45 271.68L240.45 271.65ZM248.00 248.17L246.65 247.82L247.91 242.99L249.33 247.77ZM254.20 269.00L255.53 268.60L255.55 268.65L255.56 268.70ZM260.40 297.00L261.76 296.70L261.76 296.71L261.76 296.72ZM266.61 328.08L265.47 328.08L265.24 326.97L266.60 326.69ZM274.18 326.85L274.01 328.04L272.81 328.05L272.80 326.66ZM279.00 283.00L277.62 282.80L277.62 282.80L277.62 282.80ZM285.20 241.11L283.82 240.91L284.21 238.32L286.14 240.08ZM291.48 248.18L290.89 248.21L290.46 247.81L291.40 246.79ZM297.60 246.44L297.52 245.06L298.72 244.99L298.96 246.17ZM302.47 277.39L302.45 277.34L302.44 277.28L303.80 277.00ZM310.75 299.09L309.19 300.08L308.67 298.32L310.00 297.92ZM317.50 294.47L317.33 294.90L316.95 295.14L316.20 293.97ZM322.40 278.00L321.10 277.50L321.12 277.46L321.13 277.43ZM328.60 264.13L327.33 263.57L328.80 260.28L329.92 263.70ZM334.80 283.00L336.12 282.57L336.15 282.66L336.17 282.75ZM340.15 318.07L339.73 317.74L339.63 317.22L341.00 316.97ZM348.52 322.21L347.90 324.08L346.35 322.87L347.20 321.78ZM354.77 303.26L354.75 303.35L354.72 303.44L353.40 303.00ZM359.60 270.02L358.23 269.76L358.31 269.33L358.63 269.02ZM365.80 263.92L364.83 262.93L366.65 261.15L367.16 263.64ZM371.12 295.03L370.74 294.72L370.64 294.23L372.00 293.95ZM377.33 300.08L377.32 300.08L377.32 300.08L378.20 299.00ZM384.40 304.00L385.27 302.92L385.36 302.99L385.44 303.08ZM390.60 311.00L391.64 310.08L391.72 310.17L391.78 310.27ZM395.72 321.88L395.67 321.81L395.62 321.73L396.80 321.00ZM404.36 328.87L403.78 331.74L401.92 329.47L403.00 328.59ZM409.20 298.00L407.84 297.73L407.87 297.57L407.94 297.42ZM415.40 284.51L414.14 283.93L415.06 281.92L416.47 283.63ZM421.60 292.01L422.67 291.12L422.84 291.32L422.92 291.58ZM426.51 311.51L426.49 311.47L426.48 311.43L427.80 311.00ZM434.20 328.03L433.11 328.19L432.71 327.17L434.00 326.65ZM441.57 325.98L441.41 327.00L440.40 327.14L440.20 325.77ZM446.40 286.60L445.03 286.39L445.63 282.60L447.59 285.89ZM451.44 297.76L451.42 297.74L451.41 297.71L452.60 297.00ZM460.12 306.84L459.23 309.60L457.64 307.18L458.80 306.42ZM465.00 287.16L463.68 286.74L465.33 281.61L465.66 281.64L466.38 286.98ZM469.82 333.19L469.82 333.19L469.82 333.19L471.20 333.00ZM476.12 377.53L476.05 377.37L476.02 377.19L477.40 377.00ZM484.98 392.03L484.30 397.14L482.32 392.39L483.60 391.85ZM489.80 345.00L488.42 344.82L488.43 344.77L488.44 344.73ZM496.00 314.02L494.64 313.74L494.70 313.42L494.90 313.17ZM503.53 306.40L503.45 306.64L503.30 306.84L502.20 305.99ZM509.76 286.26L509.75 286.34L509.73 286.41L508.40 286.00ZM514.60 254.05L513.24 253.78L513.35 253.20L513.84 252.88ZM520.80 250.01L520.04 248.85L521.53 247.88L522.11 249.56ZM527.02 269.12L526.02 269.14L525.69 268.19L527.00 267.74ZM534.58 267.79L534.45 269.02L533.22 269.03L533.20 267.64ZM540.78 210.12L540.78 210.13L540.78 210.15L539.40 210.00ZM546.99 138.10L546.99 138.11L546.98 138.12L545.60 138.00ZM551.80 54.15L550.41 54.05L550.81 48.67L551.59 48.58L553.13 53.76ZM558.00 75.00L559.33 74.60L559.38 74.77L559.39 74.94ZM562.81 212.10L562.81 212.08L562.81 212.06L564.20 212.00ZM571.74 298.22L570.25 303.41L569.40 303.33L569.01 297.94L570.40 297.84ZM576.60 276.17L575.26 275.79L576.74 270.62L577.95 275.86ZM582.80 303.00L584.15 302.69L584.16 302.72L584.17 302.76ZM587.66 338.36L587.64 338.30L587.63 338.24L589.00 338.00ZM596.56 361.11L595.50 366.38L595.27 366.39L593.86 361.20L595.20 360.83ZM602.78 330.20L602.77 330.24L602.76 330.27L601.40 330.00ZM607.60 287.17L606.22 286.97L607.00 281.60L608.43 281.63L608.98 287.03ZM612.44 348.28L612.42 348.21L612.42 348.14L613.80 348.00ZM618.79 378.68L618.68 378.49L618.64 378.28L620.00 377.99ZM624.99 389.69L624.99 389.69L624.99 389.68L626.20 389.00ZM633.43 400.75L632.14 402.16L631.19 400.50L632.40 399.81ZM638.60 393.00L637.57 392.07L637.60 392.03L637.63 392.00ZM645.97 387.74L645.88 387.87L645.77 387.99L644.80 386.99ZM651.00 377.33L649.83 376.58L651.25 374.37L652.28 376.78ZM658.58 392.00L658.00 397.26L655.92 392.39L657.20 391.85ZM664.78 336.14L664.78 336.15L664.78 336.15L663.40 336.00ZM669.60 274.00L668.22 273.86L668.22 273.79L668.24 273.72ZM675.80 244.01L674.44 243.73L674.51 243.37L674.76 243.09ZM682.00 236.96L680.96 236.04L682.67 234.10L683.34 236.60ZM686.96 260.63L686.90 260.50L686.86 260.36L688.20 260.00ZM694.40 272.00L695.64 271.37L695.72 271.54L695.76 271.72ZM700.60 302.00L701.96 301.72L701.97 301.75L701.97 301.78ZM708.19 339.94L707.75 345.36L706.31 345.42L705.43 340.06L706.80 339.83ZM714.39 262.06L714.39 262.09L714.39 262.11L713.00 262.00Z" fill="#008000" stroke="none"/>
<path d="M103.49 391.45L110.42 380.31L112.78 381.78L105.85 392.91ZM111.10 379.75L117.30 377.35L118.30 379.95L112.10 382.34ZM119.07 378.10L125.27 392.37L122.73 393.47L116.53 379.20ZM122.70 392.42L128.90 376.35L131.50 377.35L125.30 393.42ZM130.84 375.62L137.04 378.83L135.76 381.30L129.56 378.09ZM137.74 379.71L143.94 403.31L141.26 404.01L135.06 380.42ZM141.35 403.05L147.55 390.39L150.05 391.61L143.85 404.27ZM147.58 390.33L153.78 379.16L156.22 380.50L150.02 391.67ZM156.33 379.44L162.53 400.61L159.87 401.39L153.67 380.22ZM162.56 400.70L168.76 428.53L166.04 429.13L159.84 401.30ZM166.07 428.42L172.27 408.59L174.93 409.41L168.73 429.25ZM172.25 408.68L178.45 382.68L181.15 383.32L174.95 409.32ZM178.42 382.86L184.62 319.86L187.38 320.14L181.18 383.14ZM184.61 319.89L190.81 239.89L193.59 240.11L187.39 320.11ZM190.82 239.87L197.02 173.99L199.78 174.25L193.58 240.13ZM197.94 172.81L204.14 170.61L205.06 173.23L198.86 175.43ZM205.98 171.80L212.18 242.88L209.42 243.12L203.22 172.04ZM212.18 242.83L218.38 294.68L215.62 295.01L209.42 243.17ZM215.69 294.39L221.89 276.54L224.51 277.46L218.31 295.30ZM221.90 276.51L228.10 260.13L230.70 261.11L224.50 277.49ZM230.64 260.00L236.84 272.38L234.36 273.62L228.16 261.24ZM236.84 272.38L243.04 284.87L240.56 286.11L234.36 273.62ZM240.45 285.17L246.65 258.68L249.35 259.32L243.15 285.80ZM246.64 258.70L252.84 230.36L255.56 230.95L249.36 259.30ZM254.97 229.50L261.17 233.63L259.63 235.94L253.43 231.81ZM259.14 234.20L265.34 220.87L267.86 222.04L261.66 235.37ZM266.96 220.11L273.16 221.77L272.44 224.46L266.24 222.80ZM274.10 222.63L280.30 239.52L277.70 240.48L271.50 223.59ZM280.31 239.52L286.51 256.52L283.89 257.48L277.69 240.48ZM286.56 256.73L292.76 288.12L290.04 288.66L283.84 257.27ZM291.10 287.04L297.30 285.64L297.90 288.36L291.70 289.75ZM297.14 285.69L303.34 283.54L304.26 286.16L298.06 288.31ZM302.43 284.59L308.63 251.36L311.37 251.87L305.17 285.10ZM310.22 250.24L316.42 251.23L315.98 253.97L309.78 252.99ZM315.07 251.79L321.27 243.08L323.53 244.69L317.33 253.41ZM323.76 243.61L329.96 274.73L327.24 275.27L321.04 244.16ZM329.95 274.65L336.15 298.48L333.45 299.18L327.25 275.35ZM333.49 298.38L339.69 280.55L342.31 281.46L336.11 299.29ZM339.92 280.14L346.12 272.44L348.28 274.18L342.08 281.88ZM348.40 272.61L354.60 283.29L352.20 284.69L346.00 274.01ZM354.33 282.96L360.53 288.59L358.67 290.65L352.47 285.02ZM358.90 288.42L365.10 284.80L366.50 287.20L360.30 290.82ZM365.04 284.84L371.24 280.79L372.76 283.12L366.56 287.16ZM370.69 281.47L376.89 264.52L379.51 265.48L373.31 282.43ZM376.89 264.52L383.09 247.52L385.71 248.48L379.51 265.48ZM383.12 247.47L389.32 232.48L391.88 233.54L385.68 248.53ZM389.65 231.99L395.85 226.22L397.75 228.25L391.55 234.02ZM398.18 227.08L404.38 281.84L401.62 282.16L395.42 227.39ZM404.38 281.81L410.58 326.73L407.82 327.12L401.62 282.19ZM409.97 325.77L416.17 329.88L414.63 332.20L408.43 328.08ZM416.65 330.43L422.85 343.08L420.35 344.30L414.15 331.65ZM420.58 342.74L426.78 336.04L428.82 337.93L422.62 344.63ZM426.43 336.75L432.63 299.58L435.37 300.04L429.17 337.21ZM435.11 298.97L441.31 307.17L439.09 308.85L432.89 300.65ZM441.57 307.80L447.77 348.45L445.03 348.87L438.83 308.22ZM446.40 347.27L452.60 347.29L452.60 350.07L446.40 350.05ZM451.24 348.38L457.44 320.86L460.16 321.48L453.96 348.99ZM460.15 320.82L466.35 344.65L463.65 345.35L457.45 321.52ZM466.36 344.70L472.56 372.53L469.84 373.14L463.64 345.30ZM469.82 372.67L476.02 320.83L478.78 321.17L472.58 373.00ZM476.03 320.75L482.23 286.91L484.97 287.41L478.77 321.25ZM484.88 286.62L491.08 301.47L488.52 302.54L482.32 287.69ZM491.18 301.83L497.38 351.36L494.62 351.70L488.42 302.17ZM494.99 350.57L501.19 344.03L503.21 345.95L497.01 352.49ZM500.85 344.64L507.05 320.65L509.75 321.35L503.55 345.34ZM507.20 320.30L513.40 309.65L515.80 311.05L509.60 321.70ZM515.88 309.80L522.08 324.10L519.52 325.20L513.32 310.90ZM519.60 323.95L525.80 313.30L528.20 314.69L522.00 325.35ZM525.62 313.83L531.82 260.84L534.58 261.16L528.38 314.16ZM531.90 260.50L538.10 244.50L540.70 245.50L534.50 261.50ZM538.03 244.78L544.23 205.78L546.97 206.22L540.77 245.22ZM544.22 205.83L550.42 155.83L553.18 156.17L546.98 206.17ZM550.43 155.77L556.63 119.30L559.37 119.76L553.17 156.23ZM558.82 118.40L565.02 122.92L563.38 125.17L557.18 120.65ZM565.59 123.95L571.79 214.91L569.01 215.09L562.81 124.14ZM571.79 214.94L577.99 347.94L575.21 348.06L569.01 215.06ZM577.99 347.89L584.19 424.76L581.41 424.98L575.21 348.11ZM581.52 424.34L593.92 394.47L596.48 395.53L584.08 425.40ZM593.97 394.35L600.17 382.59L602.63 383.88L596.43 395.65ZM602.67 382.67L608.87 396.43L606.33 397.57L600.13 383.81ZM608.94 396.64L615.14 419.64L612.46 420.36L606.26 397.36ZM615.11 419.53L621.31 436.61L618.69 437.56L612.49 420.47ZM618.69 436.62L624.89 419.18L627.51 420.12L621.31 437.55ZM627.49 419.13L633.69 434.46L631.11 435.50L624.91 420.17ZM633.34 433.95L639.54 439.63L637.66 441.68L631.46 436.00ZM637.91 439.44L681.31 414.69L682.69 417.11L639.29 441.86ZM680.61 415.81L686.81 317.91L689.59 318.09L683.39 415.99ZM686.81 317.88L693.01 244.05L695.79 244.29L689.59 318.12ZM695.78 244.02L701.98 301.85L699.22 302.15L693.02 244.32ZM701.96 301.71L720.85 391.07L718.13 391.65L699.24 302.29ZM111.60 381.04L110.42 380.31L110.67 379.91L111.10 379.75ZM117.80 378.65L117.30 377.35L118.54 376.87L119.07 378.10ZM125.30 393.42L124.08 396.58L122.73 393.47L124.00 392.92ZM130.20 376.85L128.90 376.35L129.46 374.91L130.84 375.62ZM136.40 380.06L137.04 378.83L137.59 379.11L137.74 379.71ZM143.85 404.27L142.21 407.63L141.26 404.01L142.60 403.66ZM148.80 391.00L147.55 390.39L147.57 390.36L147.58 390.33ZM155.00 379.83L153.78 379.16L155.40 376.25L156.33 379.44ZM161.20 401.00L162.53 400.61L162.55 400.65L162.56 400.70ZM168.73 429.25L167.17 434.21L166.04 429.13L167.40 428.83ZM174.95 409.32L174.94 409.37L174.93 409.41L173.60 409.00ZM181.18 383.14L181.17 383.23L181.15 383.32L179.80 383.00ZM187.39 320.11L187.38 320.12L187.38 320.14L186.00 320.00ZM192.20 240.00L190.81 239.89L190.82 239.88L190.82 239.87ZM198.40 174.12L197.02 173.99L197.10 173.10L197.94 172.81ZM204.60 171.92L204.14 170.61L205.83 170.01L205.98 171.80ZM209.42 243.17L209.42 243.14L209.42 243.12L210.80 243.00ZM218.31 295.30L216.55 300.39L216.26 300.36L215.62 295.01L217.00 294.84ZM223.20 277.00L221.89 276.54L221.89 276.53L221.90 276.51ZM229.40 260.62L228.10 260.13L229.22 257.16L230.64 260.00ZM235.60 273.00L236.84 272.38L236.84 272.38L236.84 272.38ZM243.15 285.80L242.27 289.57L240.56 286.11L241.80 285.49ZM249.36 259.30L249.36 259.31L249.35 259.32L248.00 259.00ZM254.20 230.66L252.84 230.36L253.28 228.37L254.97 229.50ZM261.66 235.37L260.98 236.84L259.63 235.94L260.40 234.78ZM266.60 221.46L265.34 220.87L265.83 219.81L266.96 220.11ZM272.80 223.11L273.16 221.77L273.86 221.96L274.10 222.63ZM279.00 240.00L280.30 239.52L280.31 239.52L280.31 239.52ZM285.20 257.00L286.51 256.52L286.54 256.63L286.56 256.73ZM291.70 289.75L290.31 290.06L290.04 288.66L291.40 288.39ZM298.06 288.31L297.98 288.34L297.90 288.36L297.60 287.00ZM305.17 285.10L305.02 285.90L304.26 286.16L303.80 284.85ZM310.00 251.62L308.63 251.36L308.88 250.03L310.22 250.24ZM317.33 253.41L316.83 254.11L315.98 253.97L316.20 252.60ZM322.40 243.88L321.27 243.08L323.13 240.46L323.76 243.61ZM327.25 275.35L327.24 275.31L327.24 275.27L328.60 275.00ZM336.11 299.29L334.61 303.61L333.45 299.18L334.80 298.83ZM341.00 281.01L339.69 280.55L339.77 280.32L339.92 280.14ZM347.20 273.31L346.12 272.44L347.39 270.86L348.40 272.61ZM352.47 285.02L352.31 284.87L352.20 284.69L353.40 283.99ZM360.30 290.82L359.42 291.33L358.67 290.65L359.60 289.62ZM366.56 287.16L366.53 287.18L366.50 287.20L365.80 286.00ZM373.31 282.43L373.15 282.86L372.76 283.12L372.00 281.95ZM379.51 265.48L379.51 265.48L379.51 265.48L378.20 265.00ZM384.40 248.00L383.09 247.52L383.10 247.50L383.12 247.47ZM390.60 233.01L389.32 232.48L389.43 232.20L389.65 231.99ZM396.80 227.23L395.85 226.22L397.87 224.34L398.18 227.08ZM401.62 282.19L401.62 282.17L401.62 282.16L403.00 282.00ZM408.43 328.08L407.91 327.74L407.82 327.12L409.20 326.93ZM415.40 331.04L416.17 329.88L416.48 330.09L416.65 330.43ZM422.62 344.63L421.24 346.12L420.35 344.30L421.60 343.69ZM429.17 337.21L429.10 337.62L428.82 337.93L427.80 336.98ZM434.00 299.81L432.63 299.58L433.16 296.40L435.11 298.97ZM440.20 308.01L441.31 307.17L441.52 307.45L441.57 307.80ZM446.40 350.05L445.21 350.05L445.03 348.87L446.40 348.66ZM453.96 348.99L453.71 350.08L452.60 350.07L452.60 348.68ZM458.80 321.17L457.44 320.86L458.63 315.61L458.79 315.61L460.15 320.82ZM465.00 345.00L466.35 344.65L466.35 344.67L466.36 344.70ZM472.58 373.00L471.94 378.36L471.02 378.41L469.84 373.14L471.20 372.83ZM477.40 321.00L476.02 320.83L476.02 320.79L476.03 320.75ZM483.60 287.16L482.23 286.91L483.08 282.30L484.88 286.62ZM489.80 302.00L491.08 301.47L491.16 301.64L491.18 301.83ZM497.01 352.49L494.99 354.62L494.62 351.70L496.00 351.53ZM503.55 345.34L503.46 345.69L503.21 345.95L502.20 344.99ZM508.40 321.00L507.05 320.65L507.10 320.47L507.20 320.30ZM514.60 310.35L513.40 309.65L514.78 307.28L515.88 309.80ZM522.00 325.35L520.62 327.73L519.52 325.20L520.80 324.65ZM528.38 314.16L528.35 314.44L528.20 314.69L527.00 313.99ZM533.20 261.00L531.82 260.84L531.84 260.67L531.90 260.50ZM540.77 245.22L540.75 245.36L540.70 245.50L539.40 245.00ZM546.98 206.17L546.98 206.19L546.97 206.22L545.60 206.00ZM551.80 156.00L550.42 155.83L550.42 155.80L550.43 155.77ZM558.00 119.53L556.63 119.30L557.01 117.08L558.82 118.40ZM564.20 124.04L565.02 122.92L565.54 123.30L565.59 123.95ZM570.40 215.00L571.79 214.91L571.79 214.92L571.79 214.94ZM575.21 348.11L575.21 348.09L575.21 348.06L576.60 348.00ZM584.08 425.40L582.02 430.37L581.85 430.35L581.41 424.98L582.80 424.87ZM595.20 395.00L593.92 394.47L593.94 394.41L593.97 394.35ZM601.40 383.24L600.17 382.59L601.50 380.07L602.67 382.67ZM607.60 397.00L608.87 396.43L608.91 396.53L608.94 396.64ZM612.49 420.47L612.47 420.42L612.46 420.36L613.80 420.00ZM621.31 437.55L620.01 441.20L618.69 437.56L620.00 437.09ZM626.20 419.65L624.89 419.18L626.12 415.74L627.49 419.13ZM631.46 436.00L631.23 435.79L631.11 435.50L632.40 434.98ZM639.29 441.86L638.41 442.36L637.66 441.68L638.60 440.65ZM683.39 415.99L683.34 416.74L682.69 417.11L682.00 415.90ZM688.20 318.00L686.81 317.91L686.81 317.90L686.81 317.88ZM694.40 244.17L693.01 244.05L693.47 238.62L695.20 238.60L695.78 244.02ZM699.24 302.29L699.23 302.22L699.22 302.15L700.60 302.00Z" fill="#ff0000" stroke="none"/>
</g>
<g stroke="#000" stroke-width="1" stroke-dasharray="2 4" fill="none"><line x1="178.5" y1="59" x2="178.5" y2="540"/><line x1="255.5" y1="59" x2="255.5" y2="540"/><line x1="333.5" y1="59" x2="333.5" y2="540"/><line x1="410.5" y1="59" x2="410.5" y2="540"/><line x1="488.5" y1="59" x2="488.5" y2="540"/><line x1="565.5" y1="59" x2="565.5" y2="540"/><line x1="643.5" y1="59" x2="643.5" y2="540"/></g>
<g stroke="#000" stroke-width="1" stroke-dasharray="2 4" fill="none"><line x1="100" y1="531.5" x2="720" y2="531.5"/><line x1="100" y1="432.5" x2="720" y2="432.5"/><line x1="100" y1="332.5" x2="720" y2="332.5"/><line x1="100" y1="232.5" x2="720" y2="232.5"/><line x1="100" y1="133.5" x2="720" y2="133.5"/></g>
<rect x="100.5" y="60.5" width="620" height="480" fill="none" stroke="#000" stroke-width="1"/>
<g stroke="#000" stroke-width="0.7"><line x1="100.5" y1="540.5" x2="100.5" y2="535"/><line x1="100.5" y1="60.5" x2="100.5" y2="66"/><line x1="178.5" y1="540.5" x2="178.5" y2="535"/><line x1="178.5" y1="60.5" x2="178.5" y2="66"/><line x1="255.5" y1="540.5" x2="255.5" y2="535"/><line x1="255.5" y1="60.5" x2="255.5" y2="66"/><line x1="333.5" y1="540.5" x2="333.5" y2="535"/><line x1="333.5" y1="60.5" x2="333.5" y2="66"/><line x1="410.5" y1="540.5" x2="410.5" y2="535"/><line x1="410.5" y1="60.5" x2="410.5" y2="66"/><line x1="488.5" y1="540.5" x2="488.5" y2="535"/><line x1="488.5" y1="60.5" x2="488.5" y2="66"/><line x1="565.5" y1="540.5" x2="565.5" y2="535"/><line x1="565.5" y1="60.5" x2="565.5" y2="66"/><line x1="643.5" y1="540.5" x2="643.5" y2="535"/><line x1="643.5" y1="60.5" x2="643.5" y2="66"/><line x1="720.5" y1="540.5" x2="720.5" y2="535"/><line x1="720.5" y1="60.5" x2="720.5" y2="66"/><line x1="100.5" y1="531.5" x2="106" y2="531.5"/><line x1="720.5" y1="531.5" x2="715" y2="531.5"/><line x1="100.5" y1="432.5" x2="106" y2="432.5"/><line x1="720.5" y1="432.5" x2="715" y2="432.5"/><line x1="100.5" y1="332.5" x2="106" y2="332.5"/><line x1="720.5" y1="332.5" x2="715" y2="332.5"/><line x1="100.5" y1="232.5" x2="106" y2="232.5"/><line x1="720.5" y1="232.5" x2="715" y2="232.5"/><line x1="100.5" y1="133.5" x2="106" y2="133.5"/><line x1="720.5" y1="133.5" x2="715" y2="133.5"/></g>
<g><text transform="translate(98.70,557) scale(1.135,1)" text-anchor="middle" font-size="16.8">6000</text><text transform="translate(176.70,557) scale(1.135,1)" text-anchor="middle" font-size="16.8">6500</text><text transform="translate(253.70,557) scale(1.135,1)" text-anchor="middle" font-size="16.8">7000</text><text transform="translate(331.70,557) scale(1.135,1)" text-anchor="middle" font-size="16.8">7500</text><text transform="translate(408.70,557) scale(1.135,1)" text-anchor="middle" font-size="16.8">8000</text><text transform="translate(486.70,557) scale(1.135,1)" text-anchor="middle" font-size="16.8">8500</text><text transform="translate(563.70,557) scale(1.135,1)" text-anchor="middle" font-size="16.8">9000</text><text transform="translate(641.70,557) scale(1.135,1)" text-anchor="middle" font-size="16.8">9500</text><text transform="translate(718.70,557) scale(1.135,1)" text-anchor="middle" font-size="16.8">10000</text><text transform="translate(93.9,536.0) scale(1.1,1)" text-anchor="end" font-size="16.8">1.5</text><text transform="translate(93.9,437.0) scale(1.1,1)" text-anchor="end" font-size="16.8">2.0</text><text transform="translate(93.9,337.0) scale(1.1,1)" text-anchor="end" font-size="16.8">2.5</text><text transform="translate(93.9,237.0) scale(1.1,1)" text-anchor="end" font-size="16.8">3.0</text><text transform="translate(93.9,138.0) scale(1.1,1)" text-anchor="end" font-size="16.8">3.5</text>
<text transform="translate(98.7,55) scale(1.193,1)" font-size="16.8">1e−19</text>
<text transform="translate(408.5,53) scale(1.194,1)" text-anchor="middle" font-size="19.5">110070301</text>
<text transform="translate(409.6,576) scale(1.12,1)" text-anchor="middle" font-size="16.8">Wavelength (A)</text>
<text transform="translate(59,299.4) rotate(-90) scale(1.145,1)" text-anchor="middle" font-size="16.8">Flux (erg/s/cm^2/A)</text>
<rect x="608.5" y="70.5" width="100" height="67" fill="#fff" stroke="#000" stroke-width="1"/>
<line x1="619" y1="82.5" x2="653" y2="82.5" stroke="#0000ff" stroke-width="3"/>
<text transform="translate(661.9,89.00) scale(1.13,1)" font-size="19.5">044</text>
<line x1="619" y1="103.5" x2="653" y2="103.5" stroke="#008000" stroke-width="3"/>
<text transform="translate(661.9,109.70) scale(1.13,1)" font-size="19.5">066</text>
<line x1="619" y1="125.5" x2="653" y2="125.5" stroke="#ff0000" stroke-width="3"/>
<text transform="translate(661.9,130.50) scale(1.13,1)" font-size="19.5">116</text>
</g></svg></div></body></html>
